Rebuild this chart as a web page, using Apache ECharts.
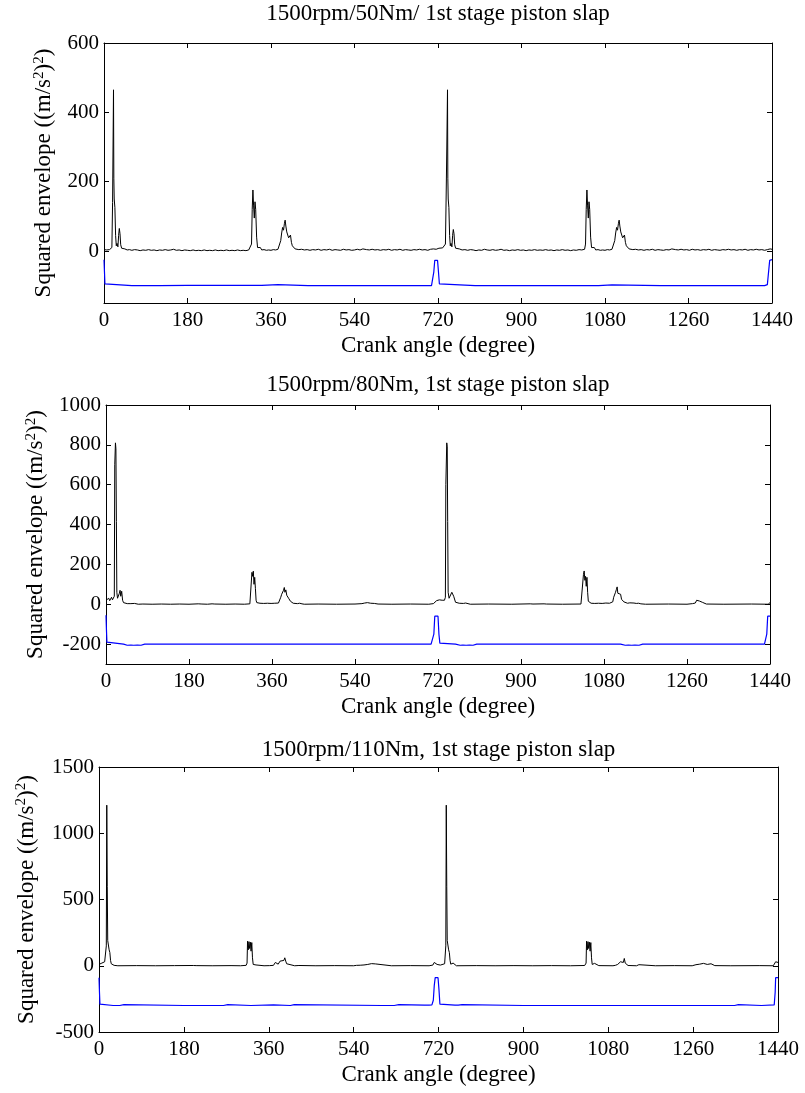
<!DOCTYPE html>
<html>
<head>
<meta charset="utf-8">
<script src="https://cdn.jsdelivr.net/npm/echarts@6/dist/echarts.min.js"></script>
<style>
html,body{margin:0;padding:0;background:#fff;}
#chart{width:805px;height:1093px;}
</style>
</head>
<body>
<div id="chart"></div>
<script>
// ---------- texts ----------
const titles = [
  '1500rpm/50Nm/ 1st stage piston slap',
  '1500rpm/80Nm, 1st stage piston slap',
  '1500rpm/110Nm, 1st stage piston slap'
];
const xName = 'Crank angle (degree)';
const yName = 'Squared envelope ((m/s{s|2}){s|2})';
const xTicks = [0, 180, 360, 540, 720, 900, 1080, 1260, 1440];
const yTicks1 = [0, 200, 400, 600];
const yTicks2 = [-200, 0, 200, 400, 600, 800, 1000];
const yTicks3 = [-500, 0, 500, 1000, 1500];
const yRange1 = [-150, 600];
const yRange2 = [-300, 1000];
const yRange3 = [-500, 1500];

// ---------- panel 1 : 50 Nm ----------
const p1Black = [
[0,4],[3,6],[6,3],[9,5],[12,4],[15,6],[17,10],[18.5,140],[19.5,300],[20.5,465],[21.2,210],[22,150],[23.5,125],[25,45],[26.5,15],[28,22],[30,12],[31.5,45],[33,65],[34.5,50],[36,18],[38,8],[41,5],[45,6],[50,3],[55,4],[60,2],[66,4],[72,3],[78,1],[84,3],[90,2],[96,4],[102,2],[108,3],[114,1],[120,3],[126,2],[132,4],[138,2],[144,3],[150,5],[156,2],[162,3],[168,1],[174,3],[180,2],[186,1],[192,3],[198,1],[204,2],[210,1],[216,3],[222,1],[228,2],[234,1],[240,3],[246,1],[252,2],[258,1],[264,3],[270,1],[276,2],[282,1],[288,3],[294,1],[300,2],[306,1],[312,3],[316,5],[318,20],[319.5,120],[321,176],[322.5,130],[324,95],[325.5,142],[327,120],[329,40],[331,10],[333,8],[335,14],[337,10],[340,3],[345,4],[350,2],[355,3],[360,2],[365,4],[370,3],[375,5],[379,8],[381,30],[383,52],[385,68],[387,60],[389,80],[390.5,89],[392,72],[394,55],[396,58],[398,38],[400,42],[402,46],[404,25],[406,15],[409,10],[412,6],[416,8],[420,4],[426,5],[432,3],[438,4],[444,2],[450,4],[456,3],[462,5],[468,2],[474,4],[480,3],[486,5],[492,2],[498,4],[504,3],[510,2],[516,5],[522,3],[528,4],[534,2],[540,3],[546,5],[552,3],[558,6],[562,8],[566,4],[572,3],[578,5],[584,3],[590,4],[596,2],[602,4],[608,3],[614,5],[620,2],[626,4],[632,3],[638,5],[644,2],[650,4],[656,3],[662,2],[668,4],[674,3],[680,5],[686,3],[692,4],[698,2],[704,5],[710,6],[716,5],[722,8],[726,6],[730,9],[734,12],[736,20],[737.5,150],[739,300],[740.5,465],[741.2,210],[742,150],[743.5,125],[745,45],[746.5,15],[748,22],[750,12],[751.5,45],[753,62],[754.5,50],[756,18],[758,8],[761,5],[766,6],[772,3],[778,4],[784,2],[790,4],[796,3],[802,1],[808,3],[814,2],[820,5],[826,3],[832,2],[838,4],[844,2],[850,3],[856,5],[862,2],[868,3],[874,1],[880,3],[886,2],[892,4],[898,2],[904,3],[910,1],[916,3],[922,2],[928,4],[934,2],[940,3],[946,2],[952,4],[958,2],[964,3],[970,1],[976,3],[982,2],[988,4],[994,2],[1000,3],[1006,1],[1012,3],[1018,2],[1024,4],[1030,3],[1036,5],[1038,20],[1039.5,120],[1041,176],[1042.5,130],[1044,95],[1045.5,142],[1047,120],[1049,40],[1051,10],[1053,8],[1055,14],[1057,10],[1060,3],[1065,4],[1070,2],[1075,3],[1080,2],[1085,4],[1090,3],[1095,5],[1099,8],[1101,30],[1103,52],[1105,68],[1107,60],[1109,80],[1110.5,89],[1112,72],[1114,55],[1116,58],[1118,38],[1120,42],[1122,46],[1124,25],[1126,15],[1129,10],[1132,6],[1136,8],[1140,4],[1146,5],[1152,3],[1158,4],[1164,2],[1170,4],[1176,3],[1182,5],[1188,2],[1194,4],[1200,3],[1206,2],[1212,4],[1218,3],[1224,6],[1228,8],[1232,4],[1238,3],[1244,5],[1250,3],[1256,4],[1262,2],[1268,5],[1274,3],[1280,4],[1286,2],[1292,4],[1298,3],[1304,5],[1310,2],[1316,4],[1322,3],[1328,2],[1334,4],[1340,3],[1346,5],[1352,3],[1358,4],[1364,2],[1370,4],[1376,3],[1382,5],[1388,2],[1394,4],[1400,3],[1406,5],[1412,3],[1418,4],[1424,2],[1430,4],[1436,6],[1440,5]
];
const p1Blue = [
[0,-25],[1,-60],[2,-95],[3,-100],[60,-100],[120,-100],[180,-99],[240,-99],[300,-99],[340,-99],[342,-97],[375,-97],[377,-100],[440,-100],[520,-100],[600,-100],[680,-100],[706,-100],[709,-95],[711,-60],[713,-27],[719,-27],[721,-60],[723,-95],[725,-100],[800,-100],[900,-100],[1000,-100],[1066,-100],[1068,-98],[1095,-98],[1097,-100],[1200,-100],[1300,-100],[1400,-100],[1424,-100],[1430,-97],[1433,-95],[1435,-27],[1440,-25]
];

// ---------- panel 2 : 80 Nm ----------
const p2Black = [
[0,20],[2,28],[4,15],[6,30],[8,18],[10,25],[12,35],[14,22],[16,30],[18,40],[19,700],[20.5,810],[21.5,780],[22.5,415],[23.5,60],[25,30],[27,25],[29,55],[30.5,70],[32,40],[34,65],[36,20],[38,8],[42,5],[46,3],[50,6],[54,3],[58,5],[62,4],[66,2],[70,0],[80,1],[100,0],[120,1],[140,0],[160,1],[180,0],[200,2],[204,8],[208,1],[220,0],[230,2],[233,7],[236,1],[260,0],[280,1],[300,0],[312,2],[315,10],[316.5,160],[318,140],[319.5,166],[321,100],[322.5,135],[324,80],[325.5,20],[327,8],[330,12],[334,5],[338,7],[342,4],[346,6],[350,5],[354,8],[358,4],[362,6],[366,5],[370,8],[374,6],[377,15],[379,35],[381,50],[383,45],[385,70],[386.7,84],[388,60],[390,72],[392,45],[394,55],[396,30],[398,35],[400,15],[403,8],[406,5],[410,6],[415,3],[420,5],[425,2],[430,0],[460,1],[500,0],[540,1],[555,3],[558,12],[561,6],[564,15],[567,8],[570,10],[574,5],[578,9],[582,4],[586,6],[590,1],[620,0],[660,1],[700,0],[710,3],[714,10],[717,18],[720,12],[723,22],[726,15],[729,20],[732,30],[734,20],[736,35],[737,600],[739,810],[740,790],[741,415],[742,60],[744,30],[746,40],[748,25],[750,60],[752,70],[754,40],[756,30],[758,10],[762,8],[766,5],[770,7],[775,4],[780,6],[784,2],[790,0],[830,1],[880,0],[920,2],[923,7],[926,1],[950,2],[952,6],[955,1],[990,0],[1030,1],[1034,10],[1035.5,150],[1037,167],[1038.5,120],[1040,140],[1041.5,90],[1043,135],[1044.5,60],[1046,15],[1049,10],[1052,5],[1056,7],[1060,4],[1064,6],[1068,5],[1072,8],[1076,4],[1080,7],[1084,6],[1088,9],[1092,5],[1096,8],[1099,12],[1101,35],[1103,45],[1105,60],[1107,75],[1108.5,87],[1110,55],[1112,65],[1114,45],[1116,50],[1118,25],[1120,30],[1123,12],[1127,8],[1131,5],[1136,7],[1140,3],[1145,6],[1150,4],[1155,5],[1160,2],[1170,0],[1220,1],[1260,0],[1272,3],[1275,10],[1278,6],[1281,20],[1284,12],[1287,16],[1290,6],[1294,9],[1298,3],[1302,1],[1340,0],[1400,1],[1436,0],[1438,5],[1440,8]
];
const p2Blue = [
[0,-55],[1,-130],[2,-190],[3,-200],[38,-200],[41,-205],[46,-206],[50,-201],[54,-205],[60,-206],[64,-201],[68,-205],[76,-206],[80,-201],[84,-200],[200,-200],[300,-200],[400,-200],[500,-200],[600,-200],[705,-200],[709,-195],[711,-150],[713,-60],[720,-60],[722,-150],[724,-195],[726,-200],[758,-200],[761,-205],[768,-206],[771,-201],[774,-205],[781,-206],[784,-201],[788,-205],[796,-206],[800,-201],[804,-200],[900,-200],[1000,-200],[1116,-200],[1119,-205],[1126,-206],[1129,-201],[1133,-205],[1140,-206],[1143,-201],[1147,-205],[1156,-206],[1160,-201],[1164,-200],[1300,-200],[1428,-200],[1431,-195],[1433,-150],[1435,-60],[1440,-60]
];

// ---------- panel 3 : 110 Nm ----------
const p3Black = [
[0,10],[2,25],[4,12],[6,20],[8,35],[10,15],[12,30],[14,40],[15.5,150],[16.5,1212],[17.5,600],[18.5,190],[20,180],[21.5,120],[23,100],[24.5,40],[26,15],[28,8],[32,3],[40,0],[80,1],[120,0],[160,1],[200,2],[203,8],[206,1],[240,0],[280,1],[300,0],[312,3],[314,20],[315,185],[316.5,120],[318,182],[319.5,130],[321,178],[322.5,110],[324,175],[325.5,60],[327,10],[329,15],[331,18],[333,6],[336,2],[350,0],[362,1],[366,5],[370,3],[374,25],[376,15],[378,30],[380,12],[384,35],[386,50],[388,20],[392,40],[394,60],[396,35],[398,15],[402,2],[415,0],[424,2],[426,10],[428,1],[460,0],[500,1],[540,0],[546,3],[550,8],[554,4],[558,12],[562,6],[566,20],[570,10],[574,5],[578,16],[582,8],[586,14],[590,2],[620,0],[660,1],[700,0],[708,5],[711,25],[714,18],[717,10],[720,15],[724,5],[728,3],[733,15],[735.5,150],[736.5,1212],[737.5,600],[738.5,190],[740,180],[741.5,120],[743,100],[744.5,40],[746,12],[749,8],[751,20],[753,6],[758,0],[800,1],[840,0],[880,1],[920,0],[960,1],[1000,0],[1030,2],[1033,20],[1034,185],[1035.5,120],[1037,182],[1038.5,130],[1040,178],[1041.5,110],[1043,175],[1044.5,60],[1046,10],[1049,15],[1051,18],[1053,6],[1060,1],[1090,0],[1095,3],[1100,10],[1103,8],[1106,30],[1108,20],[1110,45],[1112,25],[1114,55],[1116,20],[1118,10],[1122,2],[1140,0],[1143,2],[1145,8],[1147,1],[1180,0],[1220,1],[1258,0],[1262,4],[1266,8],[1270,5],[1274,12],[1278,6],[1282,18],[1286,8],[1290,10],[1294,4],[1298,15],[1302,6],[1306,1],[1340,0],[1400,1],[1430,0],[1433,10],[1435,30],[1437,15],[1440,25]
];
const p3Blue = [
[0,-90],[1,-200],[2,-290],[3,-300],[30,-300],[33,-296],[36,-300],[44,-300],[48,-293],[53,-293],[56,-300],[180,-300],[264,-300],[267,-293],[273,-293],[276,-300],[322,-300],[325,-296],[370,-296],[373,-300],[406,-300],[409,-293],[414,-293],[417,-300],[600,-300],[626,-300],[629,-294],[636,-294],[640,-297],[690,-297],[700,-297],[706,-295],[709,-260],[711,-150],[713,-90],[719,-90],[721,-180],[723,-290],[725,-297],[755,-297],[758,-300],[762,-297],[766,-300],[770,-294],[774,-300],[900,-300],[1000,-300],[1130,-300],[1133,-293],[1137,-300],[1300,-300],[1348,-300],[1351,-293],[1356,-293],[1359,-300],[1405,-300],[1408,-295],[1432,-295],[1434,-200],[1435,-90],[1440,-90]
];

// ---------- build ----------
const FONT = 'Liberation Serif, Times New Roman, serif';
const TICK_FS = 21, NAME_FS = 23, TITLE_FS = 23;
const panels = [
  {grid:{left:104, top:43, width:668, height:260}, range:yRange1, ticks:yTicks1, interval:150, yGap:47, title:titles[0], titleTop:2, black:p1Black, blue:p1Blue},
  {grid:{left:106, top:405, width:664, height:259}, range:yRange2, ticks:yTicks2, interval:100, yGap:57, title:titles[1], titleTop:373, black:p2Black, blue:p2Blue},
  {grid:{left:99, top:767, width:679, height:265}, range:yRange3, ticks:yTicks3, interval:500, yGap:60, title:titles[2], titleTop:738, black:p3Black, blue:p3Blue}
];

const option = {
  animation:false,
  backgroundColor:'#fff',
  title:[], grid:[], xAxis:[], yAxis:[], series:[]
};
const lineC = {color:'#000', width:1};
const fmt = v => String(v);
panels.forEach((p,i)=>{
  option.grid.push(Object.assign({containLabel:false}, p.grid));
  option.title.push({
    text:p.title, left:p.grid.left + p.grid.width/2, top:p.titleTop, textAlign:'center', padding:0,
    textStyle:{fontFamily:FONT, fontSize:TITLE_FS, fontWeight:'normal', color:'#000'}
  });
  option.xAxis.push({
    gridIndex:i, type:'value', min:0, max:1440, interval:180, position:'bottom',
    axisLine:{show:true, onZero:false, lineStyle:lineC},
    axisTick:{show:true, inside:true, length:5, lineStyle:lineC, customValues:xTicks},
    axisLabel:{show:true, margin:7, fontFamily:FONT, fontSize:TICK_FS, color:'#000', formatter:fmt, customValues:xTicks},
    splitLine:{show:false},
    name:xName, nameLocation:'middle', nameGap:31,
    nameTextStyle:{fontFamily:FONT, fontSize:NAME_FS, color:'#000'}
  });
  option.xAxis.push({
    gridIndex:i, type:'value', min:0, max:1440, interval:180, position:'top',
    axisLine:{show:true, onZero:false, lineStyle:lineC},
    axisTick:{show:true, inside:true, length:5, lineStyle:lineC, customValues:xTicks},
    axisLabel:{show:false, customValues:xTicks}, splitLine:{show:false}
  });
  option.yAxis.push({
    gridIndex:i, type:'value', min:p.range[0], max:p.range[1], interval:p.interval, position:'left',
    axisLine:{show:true, onZero:false, lineStyle:lineC},
    axisTick:{show:true, inside:true, length:5, lineStyle:lineC, customValues:p.ticks},
    axisLabel:{show:true, margin:5, fontFamily:FONT, fontSize:TICK_FS, color:'#000', formatter:fmt, customValues:p.ticks},
    splitLine:{show:false},
    name:yName, nameLocation:'middle', nameGap:p.yGap,
    nameTextStyle:{fontFamily:FONT, fontSize:NAME_FS, color:'#000', lineHeight:25,
      rich:{s:{fontFamily:FONT, fontSize:15, lineHeight:15, color:'#000', verticalAlign:'top'}}}
  });
  option.yAxis.push({
    gridIndex:i, type:'value', min:p.range[0], max:p.range[1], interval:p.interval, position:'right',
    axisLine:{show:true, onZero:false, lineStyle:lineC},
    axisTick:{show:true, inside:true, length:5, lineStyle:lineC, customValues:p.ticks},
    axisLabel:{show:false, customValues:p.ticks}, splitLine:{show:false}
  });
  option.series.push({
    type:'line', xAxisIndex:2*i, yAxisIndex:2*i, data:p.blue, showSymbol:false, symbol:'none',
    lineStyle:{color:'#0000ff', width:1.2}, itemStyle:{color:'#0000ff'}, z:2, silent:true
  });
  option.series.push({
    type:'line', xAxisIndex:2*i, yAxisIndex:2*i, data:p.black, showSymbol:false, symbol:'none',
    lineStyle:{color:'#000', width:1}, itemStyle:{color:'#000'}, z:3, silent:true
  });
});

const chart = echarts.init(document.getElementById('chart'), null, {renderer:'canvas'});
chart.setOption(option);
</script>
</body>
</html>
